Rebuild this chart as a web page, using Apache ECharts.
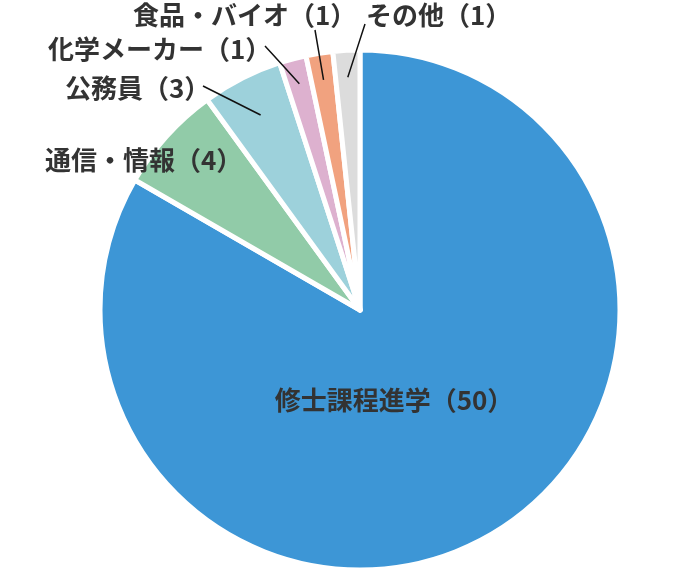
<!DOCTYPE html>
<html>
<head>
<meta charset="utf-8">
<script src="https://cdn.jsdelivr.net/npm/echarts@6/dist/echarts.min.js"></script>
<style>
html,body{margin:0;padding:0;background:#fff;}
#chart{width:700px;height:580px;}
</style>
</head>
<body>
<div id="chart"></div>
<script>
// Data
const categories = ['修士課程進学', '通信・情報', '公務員', '化学メーカー', '食品・バイオ', 'その他'];
const values = [50, 4, 3, 1, 1, 1];
const colors = ['#3d96d6', '#91cba8', '#9dd1db', '#ddb1cf', '#f1a27f', '#dcdcdc'];

// Layout (pie geometry and label placement, relative to pie centre)
const CX = 360, CY = 310, R = 260;
const labelPos = [
  {dx: 34, dy: 90, align: 'center'},
  {dx: -315, dy: -150, align: 'left'},
  {dx: -295, dy: -222, align: 'left'},
  {dx: -312, dy: -261, align: 'left'},
  {dx: -227, dy: -295, align: 'left'},
  {dx: 6, dy: -295, align: 'left'}
];
const lineEnd = [null, null, [-157, -224], [-95, -264], [-45, -280], [5, -286]];
const lineStartFrac = [0, 0, 0.85, 0.91, 0.905, 0.905];

const total = values.reduce((a, b) => a + b, 0);
function midAngle(i) {
  let s = 0;
  for (let k = 0; k < i; k++) s += values[k];
  return (s + values[i] / 2) / total * 2 * Math.PI; // clockwise from top
}

const common = {
  type: 'pie',
  center: [CX, CY],
  radius: [0, R],
  startAngle: 90,
  clockwise: true,
  avoidLabelOverlap: false
};

const chart = echarts.init(document.getElementById('chart'));
chart.setOption({
  animation: false,
  backgroundColor: '#fff',
  series: [
    Object.assign({}, common, {
      z: 2,
      itemStyle: {borderColor: '#fff', borderWidth: 5},
      label: {show: false},
      labelLine: {show: false},
      data: categories.map((c, i) => ({name: c, value: values[i], itemStyle: {color: colors[i]}}))
    }),
    Object.assign({}, common, {
      z: 3,
      silent: true,
      itemStyle: {color: 'rgba(0,0,0,0)', borderWidth: 0},
      label: {
        show: true,
        position: 'outside',
        formatter: '{b}（{c}）',
        fontFamily: '"Noto Sans CJK JP", sans-serif',
        fontWeight: 'bold',
        fontSize: 26,
        color: '#333'
      },
      labelLine: {show: true, length: 5, length2: 5, smooth: false, lineStyle: {color: '#111', width: 1.5}},
      labelLayout: function (p) {
        const i = p.dataIndex;
        const lp = labelPos[i];
        const out = {
          x: CX + lp.dx,
          y: CY + lp.dy,
          align: lp.align,
          verticalAlign: 'middle'
        };
        if (lineEnd[i]) {
          const a = midAngle(i);
          const r = (R - 2.5) * lineStartFrac[i];
          const sx = CX + r * Math.sin(a);
          const sy = CY - r * Math.cos(a);
          const ex = CX + lineEnd[i][0], ey = CY + lineEnd[i][1];
          out.labelLinePoints = [[sx, sy], [(sx + ex) / 2, (sy + ey) / 2], [ex, ey]];
        }
        return out;
      },
      data: categories.map((c, i) => ({
        name: c,
        value: values[i],
        label: i === 0 ? {position: 'inside'} : {},
        labelLine: {show: i >= 2}
      }))
    })
  ]
});
</script>
</body>
</html>
